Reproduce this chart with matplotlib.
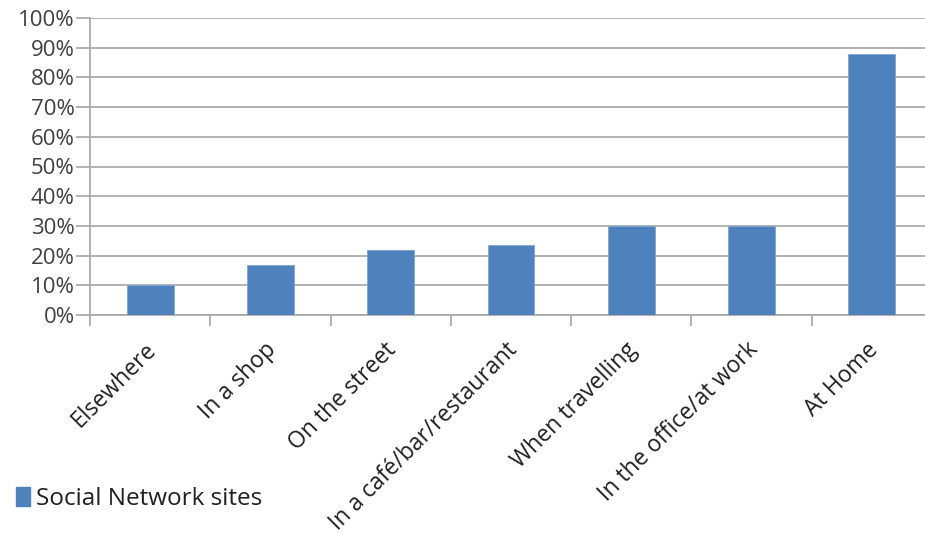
import matplotlib
matplotlib.use("Agg")
import matplotlib.pyplot as plt
import matplotlib.transforms as mtransforms
from matplotlib.ticker import PercentFormatter
from matplotlib.patches import Patch

categories = ["Elsewhere", "In a shop", "On the street", "In a café/bar/restaurant",
              "When travelling", "In the office/at work", "At Home"]
values = [10, 17, 22, 23.5, 30, 30, 88]
series_name = "Social Network sites"

bar_color = "#4F81BD"
grid_color = "#a6a6a6"
text_color = "#404040"

plt.rcParams['font.family'] = ['Open Sans', 'DejaVu Sans']

fig = plt.figure(figsize=(9.25, 5.34), dpi=100)
# axes right edge runs slightly past the picture, as in the source
ax = fig.add_axes([90/925, 1 - 315/534, (932 - 90)/925, (315 - 18)/534])

x = list(range(len(categories)))
ax.bar(x, values, width=0.39, color=bar_color, edgecolor="#7fa4d4", linewidth=0.6, zorder=3)

ax.set_xlim(-0.5, len(categories) - 0.5)
ax.set_ylim(0, 100)
ax.set_yticks(range(0, 101, 10))
ax.yaxis.set_major_formatter(PercentFormatter(decimals=0))
ax.grid(axis="y", color=grid_color, linewidth=1.2, zorder=0)

# category boundaries as x ticks, labels drawn as text under each category
ax.set_xticks([i - 0.5 for i in range(len(categories) + 1)])
ax.set_xticklabels([])
lbl_trans = ax.get_xaxis_transform() + mtransforms.ScaledTranslation(
    -6/100, -23/100, fig.dpi_scale_trans)
for xi, name in zip(x, categories):
    ax.text(xi, 0, name, transform=lbl_trans, rotation=45, ha="right", va="top",
            rotation_mode="anchor", fontsize=16.5, color="#202020")
ax.tick_params(axis="x", length=8, color=grid_color, width=1.2)
ax.tick_params(axis="y", length=10, color=grid_color, width=1.2, labelsize=16,
               labelcolor=text_color, pad=1)

for s in ["top", "right"]:
    ax.spines[s].set_visible(False)
ax.spines["left"].set_color(grid_color)
ax.spines["left"].set_linewidth(1.2)
ax.spines["bottom"].set_color(grid_color)
ax.spines["bottom"].set_linewidth(1.2)

fig.legend(handles=[Patch(color=bar_color, label=series_name)], loc="center left",
           bbox_to_anchor=(-0.006, 1 - 499/534), frameon=False, fontsize=17.5,
           handlelength=0.55, handleheight=0.8, handletextpad=0.25, labelcolor="#202020")

fig.savefig("out.png", dpi=100)
